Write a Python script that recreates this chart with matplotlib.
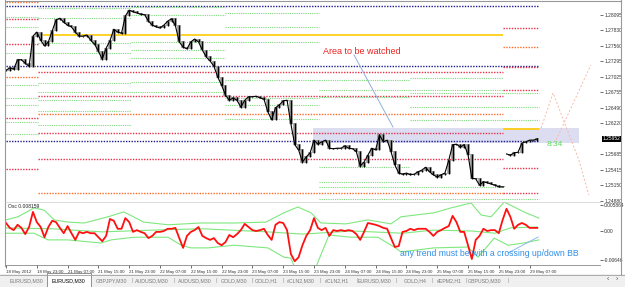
import matplotlib
matplotlib.use("Agg")
import matplotlib.pyplot as plt
from matplotlib.patches import Rectangle
from matplotlib.transforms import blended_transform_factory
import numpy as np

plt.rcParams['font.family'] = ['Liberation Sans', 'DejaVu Sans']

# hourly closes, EURUSD
close = [1.2714, 1.2718, 1.2716, 1.2732, 1.2732, 1.2726, 1.2721, 1.2773, 1.2780, 1.2766,
         1.2756, 1.2763, 1.2782, 1.2801, 1.2804, 1.2797, 1.2792, 1.2789, 1.2780, 1.2773,
         1.2773, 1.2775, 1.2766, 1.2759, 1.2747, 1.2733, 1.2752, 1.2765, 1.2785, 1.2780,
         1.2778, 1.2808, 1.2818, 1.2815, 1.2813, 1.2811, 1.2810, 1.2799, 1.2792, 1.2789,
         1.2787, 1.2792, 1.2799, 1.2803, 1.2791, 1.2763, 1.2754, 1.2751, 1.2763, 1.2768,
         1.2763, 1.2749, 1.2737, 1.2730, 1.2721, 1.2702, 1.2688, 1.2671, 1.2662, 1.2666,
         1.2662, 1.2650, 1.2662, 1.2668, 1.2668, 1.2669, 1.2666, 1.2664, 1.2642, 1.2628,
         1.2649, 1.2654, 1.2661, 1.2662, 1.2621, 1.2585, 1.2576, 1.2555, 1.2564, 1.2571,
         1.2593, 1.2586, 1.2590, 1.2593, 1.2579, 1.2578, 1.2579, 1.2579, 1.2583, 1.2579,
         1.2578, 1.2573, 1.2548, 1.2555, 1.2567, 1.2579, 1.2576, 1.2602, 1.2590, 1.2593,
         1.2573, 1.2550, 1.2536, 1.2534, 1.2536, 1.2533, 1.2534, 1.2538, 1.2541, 1.2546,
         1.2538, 1.2533, 1.2529, 1.2533, 1.2536, 1.2558, 1.2585, 1.2586, 1.2581, 1.2585,
         1.2568, 1.2527, 1.2526, 1.2515, 1.2521, 1.2519, 1.2517, 1.2515, 1.2512, 1.2512,
         1.2569, 1.2567, 1.2571, 1.2572, 1.2588, 1.2590, 1.2593, 1.2593, 1.25952]
session_starts = [130]

osc = [0.0018, 0.0007, 0.0002, 0.0014, 0.0007, -0.0007, 0.0009, 0.0043, 0.0020, 0.0009,
       -0.0014, 0.0009, 0.0023, 0.0020, 0.0007, -0.0005, 0.0011, -0.0005, -0.0020, -0.0002,
       -0.0005, -0.0002, -0.0005, -0.0005, -0.0014, -0.0023, -0.0011, 0.0027, 0.0023, 0.0005,
       0.0005, 0.0029, 0.0020, -0.0002, 0.0002, -0.0002, -0.0005, -0.0016, -0.0011, -0.0002,
       -0.0002, 0.0, 0.0005, 0.0005, 0.0007, -0.0016, -0.0038, -0.0011, -0.0002, 0.0002,
       0.0009, -0.0011, -0.0016, -0.0020, -0.0016, -0.0027, -0.0032, -0.0025, -0.0009, -0.0014,
       -0.0007, 0.0002, 0.0016, 0.0009, 0.0002, 0.0, 0.0002, 0.0005, -0.0009, -0.0020,
       0.0014, 0.0020, 0.0018, 0.0002, -0.0052, -0.0068, -0.0059, -0.0032, -0.0011, 0.0002,
       0.0029, 0.0007, 0.0002, 0.0007, -0.0011, 0.0002, 0.0, 0.0002, 0.0, 0.0002,
       0.0, -0.0007, -0.0020, -0.0002, 0.0018, 0.0016, 0.0014, 0.0011, 0.0007, 0.0005,
       -0.0016, -0.0036, -0.0034, -0.0002, 0.0, 0.0005, 0.0002, 0.0005, 0.0005, 0.0005,
       -0.0002, -0.0011, -0.0002, 0.0002, 0.0007, 0.0011, 0.0034, 0.0020, -0.0002, -0.0002,
       -0.0032, -0.0063, -0.0020, -0.0011, 0.0005, 0.0, 0.0002, 0.0002, -0.0005, 0.0025,
       0.0050, 0.0032, 0.0005, 0.0014, 0.0018, 0.0014, 0.0007, 0.0007, 0.0007]

upper_idx = [0, 3.1, 7.3, 9.9, 12.5, 16.1, 20.3, 26.5, 30.6, 35.8, 42.1, 50.6, 59.2, 67.5, 72.2,
             75.8, 79.2, 81.8, 88.3, 94, 100, 102.6, 111.2, 115.6, 120.8, 123.4, 126, 129.4, 132,
             134.5, 138.4]
upper_val = [0.0025, 0.0032, 0.0052, 0.0047, 0.0025, 0.0020, 0.0018, 0.0032, 0.0043, 0.0020,
             0.0014, 0.0018, 0.0018, 0.0020, 0.0041, 0.0054, 0.0041, 0.0018, 0.0016, 0.0025,
             0.0016, 0.0032, 0.0041, 0.0052, 0.0063, 0.0036, 0.0032, 0.0065, 0.0054, 0.0043, 0.0029]
middle_idx = [0, 12, 25, 38, 51, 68, 77, 90, 103, 111, 121, 127, 131, 138]
middle_val = [0.0007, 0.0005, -0.0002, 0.0002, 0.0005, -0.0002, -0.0007, 0.0, -0.0005, 0.0002,
              0.0, -0.0005, 0.0007, 0.0009]
lower_idx = [0, 7.3, 10.9, 16.1, 24.7, 27.3, 33.2, 42.1, 45.5, 48, 52.5, 59.2, 68, 72.2, 74,
             77.4, 80.5, 83.9, 89.6, 96.6, 100.8, 102.6, 111.2, 120, 122.6, 126.8, 130.4, 134.5, 138.4]
lower_val = [-0.0005, -0.0005, -0.0020, -0.0020, -0.0027, -0.0020, -0.0014, -0.0014, -0.0032,
             -0.0038, -0.0038, -0.0032, -0.0038, -0.0059, -0.0061, -0.0133, -0.0081, -0.0009,
             -0.0014, -0.0014, -0.0036, -0.0047, -0.0038, -0.0036, -0.0059, -0.0016, -0.0032,
             -0.0027, -0.0020]

tick_labels = ["18 May 2012", "18 May 23:00", "21 May 07:00", "21 May 15:00", "21 May 23:00",
               "22 May 07:00", "22 May 15:00", "22 May 23:00", "23 May 07:00", "23 May 15:00",
               "23 May 23:00", "24 May 07:00", "24 May 15:00", "24 May 23:00", "25 May 07:00",
               "25 May 15:00", "25 May 23:00", "29 May 07:00"]
price_ticks = [1.28095, 1.27830, 1.27560, 1.27295, 1.27025, 1.26755, 1.26490, 1.26220,
               1.25685, 1.25415, 1.25150, 1.24880]
osc_ticks = [0.005864, 0.0, -0.00646]
osc_tick_labels = ["0.005864", "0.00", "-0.00646"]
last_price = 1.25952

# pivot levels: full span, weekly spans, daily spans
full_span = (0, 138.5)
navy_levels = [1.28251, 1.27213, 1.25914]
week_spans = [(0, 8.3), (8.3, 129), (129, 138.5)]
week_red = [[1.28026, 1.27593, 1.26314, 1.25430],
            [1.27109, 1.26693, 1.26053, 1.25603],
            [1.27870, 1.27195, 1.26797, 1.25447, 1.25014]]
week_orange = [[1.28320, 1.27022], [1.26382, 1.25014], [1.27541]]
week_yellow = [[], [1.27749], [1.26122]]
day_edges = [0, 8.3, 32.4, 57, 81.3, 105, 129, 138.5]
day_green = [[1.28061, 1.27888, 1.27438, 1.26884, 1.26659, 1.26538, 1.26245, 1.26035],
             [1.28217, 1.28043, 1.27611, 1.27438, 1.26918, 1.26763, 1.26624, 1.26434, 1.26191],
             [1.28234, 1.28095, 1.27628, 1.27490, 1.27351, 1.26936, 1.26763],
             [1.28130, 1.27888, 1.27628, 1.26970, 1.26659, 1.26538, 1.26296],
             [1.26970, 1.26797, 1.26676, 1.25464, 1.25205, 1.25118, 1.24910],
             [1.27005, 1.26797, 1.26745, 1.26503, 1.26279, 1.25118, 1.24910],
             [1.26745, 1.26503, 1.26279, 1.24910]]

watch_zone = (79.7, 148.8, 1.25880, 1.26139)
pointer_x = [90.4, 100.5]
pointer_y = [1.27403, 1.26157]
fan1_x = [139, 142.1, 148.8, 151.4]
fan1_y = [1.26139, 1.26745, 1.25585, 1.24980]
fan2_x = [142.9, 151.9]
fan2_y = [1.25932, 1.27230]
osc_trend_x = [130.4, 138.2]
osc_trend_y = [-0.00495, -0.00135]

tab_names = ["EURUSD,M30", "EURUSD,M30", "GBPJPY,M30", "AUDUSD,M30", "AUDUSD,M30", "GOLD,M30",
             "GOLD,H1", "#CLN2,M30", "#CLN2,H1", "EURUSD,M30", "GOLD,H4", "#EPM2,H1", "GBPUSD,M30"]
tab_x = [27, 69, 111, 152, 195, 234, 266, 301, 337, 375, 415, 449, 485]
sep_x = [132, 174, 216, 252, 283, 320, 357, 396, 432, 466, 508]

W, H = 625, 287
PXB = 3.85  # pixels per bar
fig = plt.figure(figsize=(W / 100, H / 100), dpi=100)
fig.patch.set_facecolor("white")


def box(x0, y0, x1, y1):
    return [x0 / W, 1 - y1 / H, (x1 - x0) / W, (y1 - y0) / H]


xlim = (-0.26, -0.26 + 595 / PXB)
ax = fig.add_axes(box(5, 1, 600, 201))
ax2 = fig.add_axes(box(5, 202, 600, 265), sharex=ax)
ax.set_xlim(*xlim)
ax.set_ylim(1.24876, 1.28338)
ax2.set_ylim(-0.00765, 0.006525)

dot = (0, (1, 1))
for p in navy_levels:
    ax.hlines(p, *full_span, color="#1c1c8c", lw=1.0, ls=dot)
for k, (a, b) in enumerate(week_spans):
    for p in week_red[k]:
        ax.hlines(p, a, b, color="#e8304a", lw=1.0, ls=dot)
    for p in week_orange[k]:
        ax.hlines(p, a, b, color="#ff6a28", lw=1.0, ls=dot)
    for p in week_yellow[k]:
        ax.hlines(p, a, b, color="#ffcc00", lw=1.2)
for k in range(len(day_edges) - 1):
    for p in day_green[k]:
        ax.hlines(p, day_edges[k], day_edges[k + 1], color="#7ed87e", lw=0.8, ls=dot)

ax.add_patch(Rectangle((watch_zone[0], watch_zone[2]), watch_zone[1] - watch_zone[0],
                       watch_zone[3] - watch_zone[2], facecolor="#d8d8f0", edgecolor="none",
                       alpha=0.85, zorder=0.5))

# price bars
idx = np.arange(len(close))
opens = [close[i - 1] if i > 0 and i not in session_starts else close[i] for i in idx]
lows = np.minimum(opens, close) - 0.00008
highs = np.maximum(opens, close) + 0.00008
ax.vlines(idx, lows, highs, color="#9a9a9a", lw=2.6, zorder=2.8)
ax.vlines(idx, lows, highs, color="black", lw=0.9, zorder=3)
for seg in np.split(idx, session_starts):
    ax.plot(seg, np.asarray(close)[seg], color="black", lw=0.8, zorder=3)

ax.plot(pointer_x, pointer_y, color="#8fb0dd", lw=0.7)
ax.plot(fan1_x, fan1_y, color="#f6b8a8", lw=0.7, ls=(0, (2, 2)))
ax.plot(fan2_x, fan2_y, color="#f6b8a8", lw=0.7, ls=(0, (2, 2)))

# oscillator
ax2.plot(upper_idx, upper_val, color="#7ee87e", lw=0.8)
ax2.plot(middle_idx, middle_val, color="#7ee87e", lw=0.8)
ax2.plot(lower_idx, lower_val, color="#7ee87e", lw=0.8)
ax2.plot(idx, osc, color="#ff1010", lw=1.3, zorder=3)
ax2.plot(osc_trend_x, osc_trend_y, color="#8fb8ee", lw=0.7)

for a in (ax, ax2):
    for s in a.spines.values():
        s.set_visible(False)
    a.yaxis.tick_right()
    a.tick_params(axis="y", length=2, width=0.5, pad=1, labelsize=3.5, colors="#333333")
ax.set_yticks(price_ticks)
ax.set_yticklabels(["%.5f" % p for p in price_ticks])
ax2.set_yticks(osc_ticks)
ax2.set_yticklabels(osc_tick_labels)
ax.tick_params(axis="x", bottom=False, labelbottom=False)
ax2.set_xticks(np.arange(len(tick_labels)) * 8)
ax2.set_xticklabels(tick_labels, ha="left")
ax2.tick_params(axis="x", length=2, width=0.5, pad=1.5, labelsize=3.2, colors="#333333")
ax2.spines["bottom"].set_visible(True)
ax2.spines["bottom"].set_color("#888888")
ax2.spines["bottom"].set_linewidth(0.6)

tr = blended_transform_factory(ax.transAxes, ax.transData)
ax.text(1.004, last_price, "%.5f" % last_price, transform=tr, fontsize=3.5, color="white",
        va="center", ha="left", bbox=dict(facecolor="black", edgecolor="none", pad=0.6))

# overlay in pixel coordinates for window chrome and text objects
ov = fig.add_axes([0, 0, 1, 1])
ov.set_xlim(0, W)
ov.set_ylim(H, 0)
ov.axis("off")
ov.patch.set_visible(False)
ov.plot([5, 5], [0, 266], color="#999999", lw=0.8)
ov.plot([5, 621], [0.5, 0.5], color="#999999", lw=0.8)
ov.plot([621, 621], [0, 275], color="#999999", lw=0.8)
ov.plot([5, 600], [201.5, 201.5], color="#cccccc", lw=0.5)
ov.add_patch(Rectangle((0, 274), W, 13, facecolor="#f0f0f0", edgecolor="none"))
ov.plot([0, W], [274.5, 274.5], color="#a0a0a0", lw=0.6)
ov.add_patch(Rectangle((47, 273), 44, 14, facecolor="white", edgecolor="#808080", lw=0.6))
for k, (name, x) in enumerate(zip(tab_names, tab_x)):
    ov.text(x, 280.5, name, fontsize=3.8, ha="center", va="center",
            color="black" if k == 1 else "#7a7a7a")
for x in sep_x:
    ov.text(x, 280.5, "|", fontsize=4, ha="center", va="center", color="#9a9a9a")
ov.text(608, 280, "\u2039", fontsize=5, ha="center", va="center", color="#555555")
ov.text(617, 280, "\u203a", fontsize=5, ha="center", va="center", color="#555555")

ov.text(323, 52, "Area to be watched", fontsize=6.5, color="#ee2222", va="center", ha="left")
ov.text(400, 253.5, "any trend must be with a crossing up/down BB", fontsize=6.2,
        color="#2f8fe8", va="center", ha="left")
ov.text(547, 144, "8:34", fontsize=6, color="#5ddc5d", va="center", ha="left")
ov.text(8, 207, "Osc 0.008159", fontsize=3.6, color="#222222", va="center", ha="left")

fig.savefig("out.png", dpi=100, facecolor="white")
